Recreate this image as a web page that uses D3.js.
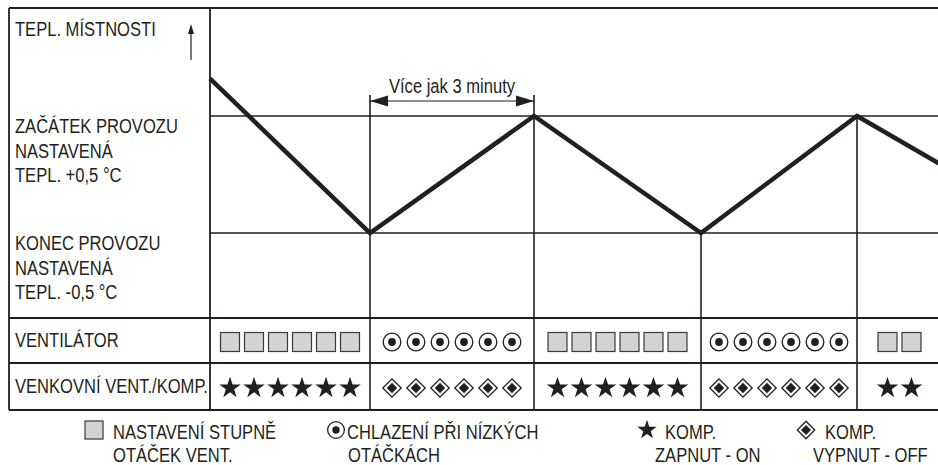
<!DOCTYPE html>
<html>
<head>
<meta charset="utf-8">
<script src="https://cdn.jsdelivr.net/npm/d3@7"></script>
<style>
  body { margin: 0; background: #fff; }
  text { font-family: "Liberation Sans", Arial, sans-serif; font-size: 19.5px; fill: #231f20; }
</style>
</head>
<body>
<div id="chart"></div>
<script>
// DATA
// room temperature curve (minutes, °C relative to set temperature)
const curveTimes = [0, 3.2, 6.48, 9.82, 12.94, 14.64];
const curveTemps = [0.82, -0.5, 0.5, -0.5, 0.5, 0.08];

// operating segments (start / end in minutes)
const segStart = [0, 3.2, 6.48, 9.82, 12.94];
const segEnd = [3.2, 6.48, 9.82, 12.94, 14.64];
const fanMode = ["square", "dot", "square", "dot", "square"];
const compMode = ["star", "diamond", "star", "diamond", "star"];
const symbolCount = [6, 6, 6, 6, 2];

// labels
const tempLabels = [
  { temp: 1.42, lines: ["TEPL. MÍSTNOSTI"] },
  { temp: 0.5, lines: ["ZAČÁTEK PROVOZU", "NASTAVENÁ", "TEPL. +0,5 °C"] },
  { temp: -0.5, lines: ["KONEC PROVOZU", "NASTAVENÁ", "TEPL. -0,5 °C"] }
];
const rowLabels = ["VENTILÁTOR", "VENKOVNÍ VENT./KOMP."];
const dimLabel = "Více jak 3 minuty";
const legendKeys = ["square", "dot", "star", "diamond"];
const legendLines = [
  ["NASTAVENÍ STUPNĚ", "OTÁČEK VENT."],
  ["CHLAZENÍ PŘI NÍZKÝCH", "OTÁČKÁCH"],
  ["KOMP.", "ZAPNUT - ON"],
  ["KOMP.", "VYPNUT - OFF"]
];

// LAYOUT
const W = 938, H = 465;
const frameLeft = 9, labelCol = 210, frameTop = 8;
const rowTop = [318, 363], frameBottom = 410;
const ink = "#231f20";
const narrow = 0.85; // condensed type

const svg = d3.select("#chart").append("svg")
  .attr("width", W)
  .attr("height", H);

function addText(g, s, tx, ty, anchor) {
  return g.append("g")
    .attr("transform", `translate(${tx},${ty}) scale(${narrow},1)`)
    .append("text")
    .attr("text-anchor", anchor || "start")
    .text(s);
}

const x = d3.scaleLinear().domain([0, 14.56]).range([labelCol, W]);
const y = d3.scaleLinear().domain([-0.5, 0.5]).range([233, 116]);

// frame
const frame = svg.append("g").attr("stroke", ink).attr("stroke-width", 1.8).attr("fill", "none");
[frameTop, rowTop[0], rowTop[1], frameBottom].forEach(yy => {
  frame.append("line").attr("x1", frameLeft).attr("x2", W).attr("y1", yy).attr("y2", yy);
});
[frameLeft, labelCol].forEach(xx => {
  frame.append("line").attr("x1", xx).attr("x2", xx).attr("y1", frameTop).attr("y2", frameBottom);
});

// set temperature lines
[0.5, -0.5].forEach(t => {
  svg.append("line")
    .attr("x1", labelCol).attr("x2", W)
    .attr("y1", y(t)).attr("y2", y(t))
    .attr("stroke", ink).attr("stroke-width", 1.6);
});

// switch lines
const dimY = 101;
segStart.slice(1).forEach((t, i) => {
  const yTop = (i < 2) ? dimY - 6 : y(curveTemps[i + 1]);
  svg.append("line")
    .attr("x1", x(t)).attr("x2", x(t))
    .attr("y1", yTop).attr("y2", frameBottom)
    .attr("stroke", ink).attr("stroke-width", 1.6);
});

// dimension arrow (segment 2)
const dx1 = x(segStart[1]), dx2 = x(segEnd[1]);
svg.append("line")
  .attr("x1", dx1).attr("x2", dx2).attr("y1", dimY).attr("y2", dimY)
  .attr("stroke", ink).attr("stroke-width", 1.2);
svg.append("path")
  .attr("d", `M${dx1},${dimY}L${dx1 + 18},${dimY - 5.5}L${dx1 + 18},${dimY + 5.5}Z` +
             `M${dx2},${dimY}L${dx2 - 18},${dimY - 5.5}L${dx2 - 18},${dimY + 5.5}Z`)
  .attr("fill", ink);
addText(svg, dimLabel, (dx1 + dx2) / 2, 93, "middle");

// temperature curve
const line = d3.line().x(d => x(d[0])).y(d => y(d[1]));
svg.append("path")
  .datum(d3.zip(curveTimes, curveTemps))
  .attr("d", line)
  .attr("fill", "none")
  .attr("stroke", ink)
  .attr("stroke-width", 4.5)
  .attr("stroke-linejoin", "miter");

// up arrow next to room temp label
svg.append("line")
  .attr("x1", 191).attr("x2", 191).attr("y1", 32).attr("y2", 60)
  .attr("stroke", ink).attr("stroke-width", 1.2);
svg.append("path")
  .attr("d", "M191,24L188,34L194,34Z")
  .attr("fill", ink);

// left labels
const lineGap = 24.5;
tempLabels.forEach((lab, i) => {
  const base = i === 0 ? 36 : y(lab.temp) + 17;
  lab.lines.forEach((s, j) => addText(svg, s, 15, base + j * lineGap));
});
const rowMid = [(rowTop[0] + rowTop[1]) / 2, (rowTop[1] + frameBottom) / 2];
rowLabels.forEach((s, i) => addText(svg, s, 15, rowMid[i] + 6.5));

// symbols
function drawSymbol(g, type, cx, cy, scale) {
  const k = scale || 1;
  if (type === "square") {
    g.append("rect")
      .attr("x", cx - 9.5 * k).attr("y", cy - 9.5 * k)
      .attr("width", 19 * k).attr("height", 19 * k)
      .attr("fill", "#d3d3d3").attr("stroke", "#3a3a3a").attr("stroke-width", 1.2);
  } else if (type === "dot") {
    g.append("circle").attr("cx", cx).attr("cy", cy).attr("r", 8.8 * k)
      .attr("fill", "#fff").attr("stroke", ink).attr("stroke-width", 1.3);
    g.append("circle").attr("cx", cx).attr("cy", cy).attr("r", 3.9 * k)
      .attr("fill", ink);
  } else if (type === "star") {
    g.append("path")
      .attr("d", d3.symbol(d3.symbolStar, 145 * k * k)())
      .attr("transform", `translate(${cx},${cy})`)
      .attr("fill", ink);
  } else if (type === "diamond") {
    g.append("path")
      .attr("d", d3.symbol(d3.symbolSquare, 168 * k * k)())
      .attr("transform", `translate(${cx},${cy}) rotate(45)`)
      .attr("fill", "#fff").attr("stroke", ink).attr("stroke-width", 1.3);
    g.append("path")
      .attr("d", d3.symbol(d3.symbolSquare, 56 * k * k)())
      .attr("transform", `translate(${cx},${cy}) rotate(45)`)
      .attr("fill", ink);
  }
}

const pitch = 24;
const symG = svg.append("g");
segStart.forEach((s, i) => {
  const c = (x(s) + x(segEnd[i])) / 2;
  const n = symbolCount[i];
  d3.range(n).forEach(j => {
    const cx = c + (j - (n - 1) / 2) * pitch;
    drawSymbol(symG, fanMode[i], cx, 342);
    drawSymbol(symG, compMode[i], cx, 388);
  });
});

// legend
const legendSymX = [94, 336, 647, 806];
const legendTextX = [113, 347, 665, 825];
const legendTextX2 = [113, 348, 655, 813];
const legG = svg.append("g");
legendKeys.forEach((key, i) => {
  drawSymbol(legG, key, legendSymX[i], 430, key === "star" ? 0.9 : 0.95);
  addText(legG, legendLines[i][0], legendTextX[i], 439);
  addText(legG, legendLines[i][1], legendTextX2[i], 462);
});
</script>
</body>
</html>
